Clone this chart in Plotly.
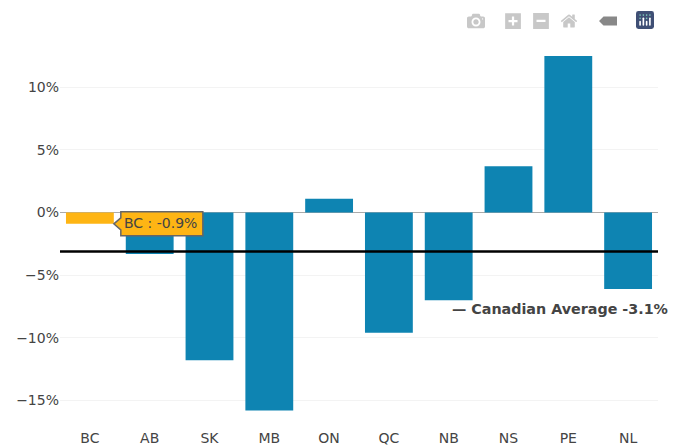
import plotly.graph_objects as go

categories = ["BC", "AB", "SK", "MB", "ON", "QC", "NB", "NS", "PE", "NL"]
values = [-0.9, -3.3, -11.8, -15.8, 1.1, -9.6, -7.0, 3.7, 12.5, -6.1]
canadian_average = -3.1
highlight = "BC"
tick_values = [-15, -10, -5, 0, 5, 10]
tick_labels = ["\u221215%", "\u221210%", "\u22125%", "0%", "5%", "10%"]

BLUE = "#0e84b2"
ORANGE = "#feb514"
FONT = "DejaVu Sans, Verdana, sans-serif"

colors = [ORANGE if c == highlight else BLUE for c in categories]
idx = categories.index(highlight)

fig = go.Figure()
fig.add_trace(go.Bar(x=categories, y=values, marker_color=colors, width=0.8,
                     marker_line_width=0, showlegend=False))

fig.update_layout(
    width=684, height=447, autosize=False,
    margin=dict(l=60, r=26, t=56, b=19),
    paper_bgcolor="#ffffff", plot_bgcolor="#ffffff",
    font=dict(family=FONT, size=14, color="#444444"),
    xaxis=dict(type="category", range=[-0.5, 9.5], showgrid=False, zeroline=False,
               showline=False, ticks="", automargin=False,
               tickfont=dict(size=14, color="#444444")),
    yaxis=dict(range=[-17.2, 12.5], tickvals=tick_values, ticktext=tick_labels,
               showgrid=True, gridcolor="#f3f3f3", gridwidth=1, zeroline=True,
               zerolinecolor="#aaaaaa", zerolinewidth=1, showline=False,
               ticks="", automargin=False, tickfont=dict(size=14, color="#444444")),
    modebar=dict(orientation="h", bgcolor="rgba(255,255,255,0)",
                 color="#c8c8c8", activecolor="#888888"),
    shapes=[
        dict(type="line", xref="paper", yref="y", x0=0, x1=1,
             y0=canadian_average, y1=canadian_average,
             line=dict(color="#000000", width=2.5), layer="above"),
        dict(type="path", xref="x", yref="y", xsizemode="pixel", ysizemode="pixel",
             xanchor=idx + 0.4, yanchor=values[idx],
             path="M0,0 L7,6 L7,12 L89,12 L89,-12 L7,-12 L7,-6 Z",
             fillcolor=ORANGE, line=dict(color="#666666", width=1.5), layer="above"),
    ],
    annotations=[
        dict(x=idx + 0.4, y=values[idx], xref="x", yref="y", xanchor="left", yanchor="middle",
             xshift=8, yshift=1, showarrow=False, text=f"{highlight} : {values[idx]}%",
             font=dict(family=FONT, size=14, color="#444444")),
        dict(x=6.02, y=-7.72, xref="x", yref="y", xanchor="left", yanchor="middle",
             showarrow=False, text=f"<b>\u2014 Canadian Average {canadian_average}%</b>",
             font=dict(family=FONT, size=14.3, color="#444444")),
    ],
)

CSS = """
.modebar{top:9px !important;right:25px !important;}
.modebar-btn{font-size:18px !important;padding:3px 5px !important;}
.modebar-group{padding-left:9px !important;}
.modebar-group:nth-child(3){padding-left:11px !important;}
.plotlyjsicon rect:first-of-type{fill:#3f4f75 !important;}
.plotlyjsicon circle{fill:#80cfbe !important;}
"""
post = ("document.body.style.margin='0';"
        "var s=document.createElement('style');s.textContent=%r;document.head.appendChild(s);" % CSS)

config = dict(displayModeBar=True, displaylogo=True,
              modeBarButtons=[["toImage"], ["zoomIn2d", "zoomOut2d", "resetScale2d"],
                              ["hoverClosestCartesian"]])
fig.write_html("out.html", config=config, post_script=post)
